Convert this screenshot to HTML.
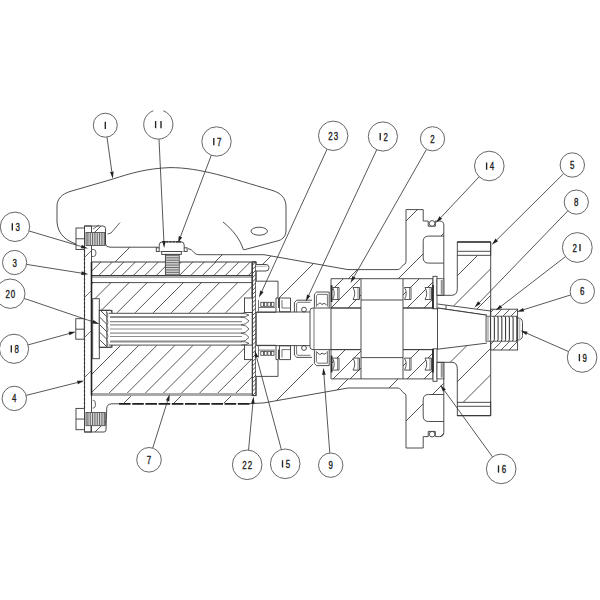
<!DOCTYPE html>
<html><head><meta charset="utf-8"><style>
html,body{margin:0;padding:0;background:#fff;width:600px;height:600px;overflow:hidden}
svg{display:block}

text{font-family:"Liberation Sans",sans-serif}
</style></head><body><div id="w">
<svg width="600" height="600" viewBox="0 0 600 600" stroke-linecap="butt">
<defs><clipPath id="h1"><path d="M91.5,247.2 L158,247.2 L188,248.7 L192,250 L197,254.7 L264,254.7 L348,269.6 L398,269.6 L402,268 L406,264 L406,209.6 L423.2,209.6 L423.2,221 L443.8,221 L443.8,278.7 L331,278.7 L331,291.7 L313,291.7 L313,298 L278,298 L278,281.7 L256,281.7 L256,262 L91.5,262Z"/></clipPath><clipPath id="h2"><path d="M264,402.9 L348,388 L398,388 L402,389.6 L406,393.6 L406,448 L423.2,448 L423.2,436.6 L443.8,436.6 L443.8,378.9 L331,378.9 L331,365.9 L313,365.9 L313,359.6 L278,359.6 L278,375.9 L256,375.9 L256,395.6Z"/></clipPath><clipPath id="h3"><path d="M92,395.6 L256,395.6 L256,402 L264,402.9 L92,404Z"/></clipPath><clipPath id="h4"><path d="M91,226 L103,226 L105.5,228.5 L105.5,247.2 L91,247.2Z"/></clipPath><clipPath id="h5"><path d="M91,404 L110,404 L106,409 L106,430.7 L104,432 L91,432Z"/></clipPath><clipPath id="h6"><path d="M92,262 L252,262 L252,275.6 L92,275.6Z"/></clipPath><clipPath id="h7"><path d="M92,282.6 L252,282.6 L252,312.7 L92,312.7Z"/></clipPath><clipPath id="h8"><path d="M92,345.5 L252,345.5 L252,393.6 L92,393.6Z"/></clipPath><clipPath id="h9"><path d="M84.5,250 L91.5,250 L91.5,408 L84.5,408Z"/></clipPath><clipPath id="h10"><path d="M99.8,310.8 L106.7,310.8 L106.7,346.8 L99.8,346.8Z"/></clipPath><clipPath id="h11"><path d="M252.3,262 L256,262 L256,395.6 L252.3,395.6Z"/></clipPath><clipPath id="h12"><path d="M331,278.7 L361,278.7 L361,308 L331,308Z"/></clipPath><clipPath id="h13"><path d="M403,278.7 L433,278.7 L433,308 L403,308Z"/></clipPath><clipPath id="h14"><path d="M331,378.9 L361,378.9 L361,349.6 L331,349.6Z"/></clipPath><clipPath id="h15"><path d="M403,378.9 L433,378.9 L433,349.6 L403,349.6Z"/></clipPath><clipPath id="h16"><path d="M457.3,255.3 L490.7,255.3 L490.7,311 L437.5,303.5 L437.5,295.3 L451.7,295.3 L457.3,288.7Z"/></clipPath><clipPath id="h17"><path d="M457.3,402.3 L490.7,402.3 L490.7,342.6 L487,343.1 L437.5,349.2 L437.5,362.3 L451.7,362.3 L457.3,368.9Z"/></clipPath><clipPath id="h18"><path d="M490.7,309.2 L517.6,309.2 L517.6,316.2 L490.7,316.2Z"/></clipPath><clipPath id="h19"><path d="M490.7,341.2 L517.6,341.2 L517.6,350 L490.7,350Z"/></clipPath></defs>
<rect width="600" height="600" fill="#fff"/>
<path d="M76,244 C68,241 58,236 57,222 L57,206 C57,199 62,194 70,191.5 L113,179 C130,173.5 146,168.5 170,167.6 C200,167.5 230,178 272,190.3 C281,193 286,198 286,207 L286,230 C286,236 283,239 279,240.5 L244,249.8" stroke="#3a3a3a" stroke-width="0.9" fill="none" />
<path d="M223,222 C233,230 240,239 243.5,250" stroke="#3a3a3a" stroke-width="0.9" fill="none" />
<ellipse cx="259.2" cy="231.2" rx="8.2" ry="4" stroke="#3a3a3a" stroke-width="0.9" fill="none"/>
<path clip-path="url(#h1)" d="M69.4,207.6L-23,300M119.4,207.6L27,300M169.4,207.6L77,300M219.4,207.6L127,300M269.4,207.6L177,300M319.4,207.6L227,300M369.4,207.6L277,300M419.4,207.6L327,300M469.4,207.6L377,300M519.4,207.6L427,300" stroke="#383838" stroke-width="0.85" fill="none"/>
<path clip-path="url(#h2)" d="M219.4,357.6L127,450M269.4,357.6L177,450M319.4,357.6L227,450M369.4,357.6L277,450M419.4,357.6L327,450M469.4,357.6L377,450M519.4,357.6L427,450" stroke="#383838" stroke-width="0.85" fill="none"/>
<path clip-path="url(#h3)" d="M83.4,393.6L71,406M133.4,393.6L121,406M183.4,393.6L171,406M233.4,393.6L221,406" stroke="#383838" stroke-width="0.85" fill="none"/>
<path clip-path="url(#h4)" d="M53,224L27.8,249.2M103,224L77.8,249.2" stroke="#383838" stroke-width="0.85" fill="none"/>
<path clip-path="url(#h5)" d="M75,402L43,434M125,402L93,434" stroke="#383838" stroke-width="0.85" fill="none"/>
<path d="M443.8,236.1 L428.5,236.1 Q423.2,236.1 423.2,241.5 L423.2,257.8 Q423.2,263.1 428.5,263.1 L443.8,263.1" stroke="#3a3a3a" stroke-width="0.9" fill="#fff" />
<path d="M264,254.7 L348,269.6 L397,269.6 C401.5,269.6 401.5,265.5 404,264.5 Q406,264 406,261.5 L406,209.6 L423.2,209.6 L423.2,221 L428.2,221 L428.2,226.2 L435.3,226.2 L435.3,221 L439.5,221 Q443.8,221 443.8,225 L443.8,295.3" stroke="#3a3a3a" stroke-width="0.9" fill="none" />
<circle cx="432.1" cy="223.4" r="2.8" stroke="#3a3a3a" stroke-width="0.9" fill="#fff"/>
<path d="M443.8,421.5 L428.5,421.5 Q423.2,421.5 423.2,416.1 L423.2,399.8 Q423.2,394.5 428.5,394.5 L443.8,394.5" stroke="#3a3a3a" stroke-width="0.9" fill="#fff" />
<path d="M264,402.9 L348,388 L397,388 C401.5,388 401.5,392.1 404,393.1 Q406,393.6 406,396.1 L406,448 L423.2,448 L423.2,436.6 L428.2,436.6 L428.2,431.4 L435.3,431.4 L435.3,436.6 L439.5,436.6 Q443.8,436.6 443.8,432.6 L443.8,362.3" stroke="#3a3a3a" stroke-width="0.9" fill="none" />
<circle cx="432.1" cy="434.2" r="2.8" stroke="#3a3a3a" stroke-width="0.9" fill="#fff"/>
<path d="M105.5,244 Q106,247.2 110,247.2 L158,247.2" stroke="#3a3a3a" stroke-width="0.9" fill="none" />
<path d="M188,248.7 C191,249 192,250.5 194,252.5 C195.5,254 196.5,254.7 200,254.7 L264,254.7" stroke="#3a3a3a" stroke-width="0.9" fill="none" />
<path d="M106.7,408.7 Q107,404 111,404" stroke="#3a3a3a" stroke-width="0.9" fill="none" />
<line x1="111" y1="403.8" x2="119" y2="403.8" stroke="#3a3a3a" stroke-width="0.9" />
<line x1="119" y1="403.8" x2="250" y2="403.8" stroke="#1e1e1e" stroke-width="1.7" stroke-dasharray="11.6,1.6"/>
<path d="M247,403.8 L264,402.9" stroke="#3a3a3a" stroke-width="0.9" fill="none" />
<path clip-path="url(#h6)" d="M79.8,260L62.2,277.6M91.3,260L73.7,277.6M102.8,260L85.2,277.6M114.3,260L96.7,277.6M125.8,260L108.2,277.6M137.3,260L119.7,277.6M148.8,260L131.2,277.6M160.3,260L142.7,277.6M171.8,260L154.2,277.6M183.3,260L165.7,277.6M194.8,260L177.2,277.6M206.3,260L188.7,277.6M217.8,260L200.2,277.6M229.3,260L211.7,277.6M240.8,260L223.2,277.6M252.3,260L234.7,277.6M263.8,260L246.2,277.6" stroke="#383838" stroke-width="0.85" fill="none"/>
<line x1="91.5" y1="262" x2="256" y2="262" stroke="#3a3a3a" stroke-width="1.2" />
<line x1="92" y1="275.6" x2="252" y2="275.6" stroke="#3a3a3a" stroke-width="1.4" />
<line x1="92" y1="277.2" x2="252" y2="277.2" stroke="#666" stroke-width="0.8" />
<line x1="92" y1="282.6" x2="252" y2="282.6" stroke="#3a3a3a" stroke-width="0.9" />
<path clip-path="url(#h7)" d="M76.8,280.6L42.7,314.7M94.9,280.6L60.8,314.7M113,280.6L78.9,314.7M131.1,280.6L97,314.7M149.2,280.6L115.1,314.7M167.3,280.6L133.2,314.7M185.4,280.6L151.3,314.7M203.5,280.6L169.4,314.7M221.6,280.6L187.5,314.7M239.7,280.6L205.6,314.7M257.8,280.6L223.7,314.7M275.9,280.6L241.8,314.7" stroke="#383838" stroke-width="0.85" fill="none"/>
<path clip-path="url(#h8)" d="M86.3,343.5L34.2,395.6M104.4,343.5L52.3,395.6M122.5,343.5L70.4,395.6M140.6,343.5L88.5,395.6M158.7,343.5L106.6,395.6M176.8,343.5L124.7,395.6M194.9,343.5L142.8,395.6M213,343.5L160.9,395.6M231.1,343.5L179,395.6M249.2,343.5L197.1,395.6M267.3,343.5L215.2,395.6M285.4,343.5L233.3,395.6M303.5,343.5L251.4,395.6" stroke="#383838" stroke-width="0.85" fill="none"/>
<rect x="92" y="393" width="160" height="3" fill="#a8a8a8"/>
<rect x="84.5" y="226" width="7" height="206" stroke="#3a3a3a" stroke-width="0.9" fill="#fff" />
<path clip-path="url(#h9)" d="M54,248L-108,410M94,248L-68,410M134,248L-28,410M174,248L12,410M214,248L52,410M254,248L92,410" stroke="#383838" stroke-width="0.7" fill="none"/>
<line x1="84.5" y1="250" x2="84.5" y2="408" stroke="#333" stroke-width="1.2" stroke-dasharray="2.5,1.5"/>
<line x1="91.5" y1="262" x2="91.5" y2="395.6" stroke="#222" stroke-width="1.6" />
<rect x="92.7" y="298.7" width="6.6" height="60" stroke="#3a3a3a" stroke-width="0.9" fill="#fff" />
<rect x="99.3" y="310.3" width="12.7" height="37" stroke="#3a3a3a" stroke-width="0.9" fill="#fff" />
<path clip-path="url(#h10)" d="M53.8,308.8L93.8,348.8M61.3,308.8L101.3,348.8M68.8,308.8L108.8,348.8M76.3,308.8L116.3,348.8M83.8,308.8L123.8,348.8M91.3,308.8L131.3,348.8M98.8,308.8L138.8,348.8M106.3,308.8L146.3,348.8" stroke="#333" stroke-width="0.85" fill="none"/>
<path d="M106.7,310.8 L106.7,346.8" stroke="#3a3a3a" stroke-width="0.7" fill="none" />
<path d="M106.7,312 Q109.3,315.4 106.9,318.9 Q109.3,322.3 106.9,325.8 Q109.3,329.2 106.9,332.7 Q109.3,336.1 106.9,339.6 Q109.3,343 106.9,346.5" stroke="#444" stroke-width="0.8" fill="none" />
<path d="M99.4,310.3 L110,310.3 Q111.8,310.6 111.8,312.5" stroke="#3a3a3a" stroke-width="0.9" fill="none" />
<path d="M99.4,347.3 L110,347.3 Q111.8,347 111.8,345.2" stroke="#3a3a3a" stroke-width="0.9" fill="none" />
<rect x="108.7" y="313.3" width="140.3" height="31.8" stroke="none" stroke-width="0" fill="#fff" />
<line x1="108.7" y1="313.3" x2="244" y2="313.3" stroke="#3a3a3a" stroke-width="0.9" />
<line x1="108.7" y1="345.1" x2="244" y2="345.1" stroke="#3a3a3a" stroke-width="0.9" />
<line x1="110" y1="317" x2="242" y2="317" stroke="#8c8c8c" stroke-width="1.8" />
<line x1="110" y1="321.7" x2="242" y2="321.7" stroke="#8c8c8c" stroke-width="1.2" />
<line x1="110" y1="324.8" x2="242" y2="324.8" stroke="#8c8c8c" stroke-width="1.2" />
<line x1="110" y1="329" x2="242" y2="329" stroke="#8c8c8c" stroke-width="1.2" />
<line x1="110" y1="333.2" x2="242" y2="333.2" stroke="#8c8c8c" stroke-width="1.2" />
<line x1="110" y1="336.5" x2="242" y2="336.5" stroke="#8c8c8c" stroke-width="1.2" />
<line x1="110" y1="341.5" x2="242" y2="341.5" stroke="#8c8c8c" stroke-width="1.8" />
<path d="M241,313.3 Q246,313.3 249,315.15 Q246,317 241,317 M241,317 Q246,317 249,320.9 Q246,324.8 241,324.8 M241,324.8 Q246,324.8 249,329 Q246,333.2 241,333.2 M241,333.2 Q246,333.2 249,337.35 Q246,341.5 241,341.5 M241,341.5 Q246,341.5 249,343.3 Q246,345.1 241,345.1 " stroke="#555" stroke-width="0.9" fill="none" />
<rect x="75.8" y="318.7" width="8.4" height="20.5" stroke="#3a3a3a" stroke-width="0.9" fill="#fff" />
<line x1="75.8" y1="329.2" x2="84.2" y2="329.2" stroke="#3a3a3a" stroke-width="0.9" />
<rect x="76" y="228" width="8.5" height="21.5" stroke="#3a3a3a" stroke-width="0.9" fill="#fff" />
<line x1="76" y1="238.75" x2="84.5" y2="238.75" stroke="#3a3a3a" stroke-width="0.9" />
<rect x="86" y="232.5" width="19.2" height="13" stroke="#3a3a3a" stroke-width="0.8" fill="#fff" />
<path d="M87.2,233V245M88.95,233V245M90.7,233V245M92.45,233V245M94.2,233V245M95.95,233V245M97.7,233V245M99.45,233V245M101.2,233V245M102.95,233V245M104.7,233V245" stroke="#3a3a3a" stroke-width="0.8" fill="none" />
<rect x="76" y="408.4" width="8.5" height="21.3" stroke="#3a3a3a" stroke-width="0.9" fill="#fff" />
<line x1="76" y1="419.05" x2="84.5" y2="419.05" stroke="#3a3a3a" stroke-width="0.9" />
<rect x="86" y="412.4" width="19.2" height="13.3" stroke="#3a3a3a" stroke-width="0.8" fill="#fff" />
<path d="M87.2,412.9V425.2M88.95,412.9V425.2M90.7,412.9V425.2M92.45,412.9V425.2M94.2,412.9V425.2M95.95,412.9V425.2M97.7,412.9V425.2M99.45,412.9V425.2M101.2,412.9V425.2M102.95,412.9V425.2M104.7,412.9V425.2" stroke="#3a3a3a" stroke-width="0.8" fill="none" />
<path d="M84.5,226 L103,226 Q105.5,226 105.5,228.5 L105.5,244" stroke="#3a3a3a" stroke-width="0.9" fill="none" />
<path d="M106.7,408.7 L106,430 Q106,432 104,432 L84.5,432" stroke="#3a3a3a" stroke-width="0.9" fill="none" />
<line x1="91" y1="425.7" x2="91" y2="432" stroke="#3a3a3a" stroke-width="0.9" />
<path d="M92,249.5 L93.5,249.5 Q96,249.5 96,253 Q96,256.5 93.5,256.5 L92,256.5" stroke="#3a3a3a" stroke-width="0.8" fill="none" />
<path d="M92.7,400.4 L93.5,400.4 Q95.5,400.4 95.5,404.2 Q95.5,408 93.5,408 L92.7,408" stroke="#3a3a3a" stroke-width="0.8" fill="none" />
<path d="M120,222.5 L111,233 L107.5,234" stroke="#3a3a3a" stroke-width="0.8" fill="none" />
<line x1="93" y1="229" x2="99" y2="225" stroke="#3a3a3a" stroke-width="0.7" />
<rect x="156.3" y="247.8" width="30.8" height="3.7" stroke="#3a3a3a" stroke-width="0.9" fill="#fff" />
<path d="M159.2,251.5 L159.2,245 Q159.2,241.9 162.5,241.8 L181,241.8 Q184.2,241.9 184.2,245 L184.2,251.5" stroke="#3a3a3a" stroke-width="0.9" fill="#fff" />
<line x1="163" y1="241.8" x2="181" y2="241.8" stroke="#222" stroke-width="1.2" stroke-dasharray="2.2,1"/>
<rect x="161.7" y="251.5" width="19.6" height="2.9" stroke="#3a3a3a" stroke-width="0.9" fill="#fff" />
<rect x="165.4" y="254.4" width="13.8" height="20.9" stroke="#3a3a3a" stroke-width="0.9" fill="#fff" />
<path d="M165.8,255.6H178.8M165.8,257.3H178.8M165.8,259H178.8M165.8,260.7H178.8M165.8,262.4H178.8M165.8,264.1H178.8M165.8,265.8H178.8M165.8,267.5H178.8M165.8,269.2H178.8M165.8,270.9H178.8M165.8,272.6H178.8M165.8,274.3H178.8" stroke="#444" stroke-width="0.8" fill="none" />
<rect x="252.3" y="262" width="3.7" height="133.6" stroke="#3a3a3a" stroke-width="0.9" fill="#fff" />
<path clip-path="url(#h11)" d="M249.2,260L111.6,397.6M253.4,260L115.8,397.6M257.6,260L120,397.6M261.8,260L124.2,397.6M266,260L128.4,397.6M270.2,260L132.6,397.6M274.4,260L136.8,397.6M278.6,260L141,397.6M282.8,260L145.2,397.6M287,260L149.4,397.6M291.2,260L153.6,397.6M295.4,260L157.8,397.6M299.6,260L162,397.6M303.8,260L166.2,397.6M308,260L170.4,397.6M312.2,260L174.6,397.6M316.4,260L178.8,397.6M320.6,260L183,397.6M324.8,260L187.2,397.6M329,260L191.4,397.6M333.2,260L195.6,397.6M337.4,260L199.8,397.6M341.6,260L204,397.6M345.8,260L208.2,397.6M350,260L212.4,397.6M354.2,260L216.6,397.6M358.4,260L220.8,397.6M362.6,260L225,397.6M366.8,260L229.2,397.6M371,260L233.4,397.6M375.2,260L237.6,397.6M379.4,260L241.8,397.6M383.6,260L246,397.6M387.8,260L250.2,397.6M392,260L254.4,397.6" stroke="#444" stroke-width="0.9" fill="none"/>
<rect x="252.3" y="262" width="3.7" height="133.6" stroke="#3a3a3a" stroke-width="0.9" fill="none" />
<line x1="252" y1="262" x2="252" y2="312.7" stroke="#3a3a3a" stroke-width="0.9" />
<path d="M256,264.5 L266,264.5 Q269,264.5 269,267.7 Q269,271 266,271 L256,271" stroke="#3a3a3a" stroke-width="0.9" fill="#fff" />
<line x1="256" y1="266.3" x2="266.5" y2="266.3" stroke="#777" stroke-width="0.6" />
<rect x="244.5" y="298" width="7.8" height="14.5" stroke="#3a3a3a" stroke-width="0.9" fill="#fff" />
<path d="M256,281.2 L278,281.2 L278,298 L276,298 L276,312.3 L256,312.3" stroke="#3a3a3a" stroke-width="0.9" fill="#fff" />
<line x1="278.8" y1="298" x2="278.8" y2="308" stroke="#444" stroke-width="1.6" />
<rect x="260.8" y="302.3" width="2.7" height="4" stroke="#3a3a3a" stroke-width="0.8" fill="#fff" />
<rect x="264.3" y="302.3" width="2.7" height="4" stroke="#3a3a3a" stroke-width="0.8" fill="#fff" />
<rect x="267.8" y="302.3" width="2.7" height="4" stroke="#3a3a3a" stroke-width="0.8" fill="#fff" />
<rect x="271.3" y="302.3" width="2.7" height="4" stroke="#3a3a3a" stroke-width="0.8" fill="#fff" />
<line x1="259" y1="307.5" x2="275" y2="307.5" stroke="#3a3a3a" stroke-width="0.7" />
<line x1="258.5" y1="300" x2="258.5" y2="311.5" stroke="#3a3a3a" stroke-width="0.7" />
<path d="M279.5,298 L290.5,298 L290.5,311.8 L279.5,311.8 L279.5,298" stroke="#3a3a3a" stroke-width="0.9" fill="#fff" />
<path d="M282,300 L282,308 L290.5,308" stroke="#3a3a3a" stroke-width="0.7" fill="none" />
<path d="M294.4,312.2 L294.4,302.5 L296.8,300.2 L312,300.2" stroke="#3a3a3a" stroke-width="0.9" fill="none" />
<path d="M296.6,312.2 L296.6,303.5 L298,302.3 L310.5,302.3" stroke="#3a3a3a" stroke-width="0.7" fill="none" />
<circle cx="304" cy="309.6" r="2.4" stroke="#3a3a3a" stroke-width="0.9" fill="#fff"/>
<path d="M314.4,307.5 L314.4,294.2 L316.6,292 L329.2,292 L329.2,307.8" stroke="#3a3a3a" stroke-width="0.9" fill="#fff" />
<path d="M316.4,306.5 L316.4,296 L317.6,294.4 L327.4,294.4 L327.4,306.5" stroke="#3a3a3a" stroke-width="0.7" fill="none" />
<path d="M317,305.5 Q319.5,301.5 322,304.5 Q324,302 326.5,304.8" stroke="#3a3a3a" stroke-width="0.9" fill="none" />
<line x1="331.6" y1="285.2" x2="331.6" y2="302" stroke="#222" stroke-width="1.7" />
<rect x="244.5" y="345.1" width="7.8" height="14.5" stroke="#3a3a3a" stroke-width="0.9" fill="#fff" />
<path d="M256,376.4 L278,376.4 L278,359.6 L276,359.6 L276,345.3 L256,345.3" stroke="#3a3a3a" stroke-width="0.9" fill="#fff" />
<line x1="278.8" y1="359.6" x2="278.8" y2="349.6" stroke="#444" stroke-width="1.6" />
<rect x="260.8" y="351.3" width="2.7" height="4" stroke="#3a3a3a" stroke-width="0.8" fill="#fff" />
<rect x="264.3" y="351.3" width="2.7" height="4" stroke="#3a3a3a" stroke-width="0.8" fill="#fff" />
<rect x="267.8" y="351.3" width="2.7" height="4" stroke="#3a3a3a" stroke-width="0.8" fill="#fff" />
<rect x="271.3" y="351.3" width="2.7" height="4" stroke="#3a3a3a" stroke-width="0.8" fill="#fff" />
<line x1="259" y1="350.1" x2="275" y2="350.1" stroke="#3a3a3a" stroke-width="0.7" />
<line x1="258.5" y1="357.6" x2="258.5" y2="346.1" stroke="#3a3a3a" stroke-width="0.7" />
<path d="M279.5,359.6 L290.5,359.6 L290.5,345.8 L279.5,345.8 L279.5,359.6" stroke="#3a3a3a" stroke-width="0.9" fill="#fff" />
<path d="M282,357.6 L282,349.6 L290.5,349.6" stroke="#3a3a3a" stroke-width="0.7" fill="none" />
<path d="M294.4,345.4 L294.4,355.1 L296.8,357.4 L312,357.4" stroke="#3a3a3a" stroke-width="0.9" fill="none" />
<path d="M296.6,345.4 L296.6,354.1 L298,355.3 L310.5,355.3" stroke="#3a3a3a" stroke-width="0.7" fill="none" />
<circle cx="304" cy="348" r="2.4" stroke="#3a3a3a" stroke-width="0.9" fill="#fff"/>
<path d="M314.4,350.1 L314.4,363.4 L316.6,365.6 L329.2,365.6 L329.2,349.8" stroke="#3a3a3a" stroke-width="0.9" fill="#fff" />
<path d="M316.4,351.1 L316.4,361.6 L317.6,363.2 L327.4,363.2 L327.4,351.1" stroke="#3a3a3a" stroke-width="0.7" fill="none" />
<path d="M317,352.1 Q319.5,356.1 322,353.1 Q324,355.6 326.5,352.8" stroke="#3a3a3a" stroke-width="0.9" fill="none" />
<line x1="331.6" y1="372.4" x2="331.6" y2="355.6" stroke="#222" stroke-width="1.7" />
<path d="M256.7,312 L310,312 M310,345.6 L256.7,345.6" stroke="#3a3a3a" stroke-width="0.9" fill="none" />
<path d="M310,312 L310,310.5 Q310,308 313,308 L361,308 M403,308 L437,308" stroke="#3a3a3a" stroke-width="0.9" fill="none" />
<path d="M310,345.6 L310,347.1 Q310,349.6 313,349.6 L361,349.6 M403,349.6 L437,349.6" stroke="#3a3a3a" stroke-width="0.9" fill="none" />
<line x1="310" y1="312" x2="310" y2="345.6" stroke="#3a3a3a" stroke-width="0.9" />
<line x1="314" y1="308" x2="314" y2="349.6" stroke="#3a3a3a" stroke-width="0.7" />
<line x1="331" y1="308" x2="331" y2="349.6" stroke="#3a3a3a" stroke-width="0.9" />
<line x1="361" y1="308" x2="361" y2="349.6" stroke="#3a3a3a" stroke-width="0.9" />
<line x1="403" y1="308" x2="403" y2="349.6" stroke="#3a3a3a" stroke-width="0.9" />
<path clip-path="url(#h12)" d="M328.3,276.7L295,310M345.3,276.7L312,310M362.3,276.7L329,310M379.3,276.7L346,310M396.3,276.7L363,310" stroke="#383838" stroke-width="0.85" fill="none"/>
<path d="M331,278.7 L361,278.7 L361,308 L331,308Z" stroke="#3a3a3a" stroke-width="0.9" fill="none" />
<path d="M332.5,287.5 L339,287.5 L339,299.5 L332.5,299.5 Q336,293.5 332.5,287.5Z" stroke="#3a3a3a" stroke-width="0.85" fill="#fff" />
<line x1="337.5" y1="287.5" x2="337.5" y2="299.5" stroke="#3a3a3a" stroke-width="0.6" />
<path d="M353,287.5 L359.5,287.5 L359.5,299.5 L353,299.5 Q356.5,293.5 353,287.5Z" stroke="#3a3a3a" stroke-width="0.85" fill="#fff" />
<line x1="358" y1="287.5" x2="358" y2="299.5" stroke="#3a3a3a" stroke-width="0.6" />
<path clip-path="url(#h13)" d="M387.3,276.7L354,310M404.3,276.7L371,310M421.3,276.7L388,310M438.3,276.7L405,310M455.3,276.7L422,310" stroke="#383838" stroke-width="0.85" fill="none"/>
<path d="M403,278.7 L433,278.7 L433,308 L403,308Z" stroke="#3a3a3a" stroke-width="0.9" fill="none" />
<path d="M404.5,287.5 L411,287.5 L411,299.5 L404.5,299.5 Q408,293.5 404.5,287.5Z" stroke="#3a3a3a" stroke-width="0.85" fill="#fff" />
<line x1="409.5" y1="287.5" x2="409.5" y2="299.5" stroke="#3a3a3a" stroke-width="0.6" />
<path d="M425,287.5 L431.5,287.5 L431.5,299.5 L425,299.5 Q428.5,293.5 425,287.5Z" stroke="#3a3a3a" stroke-width="0.85" fill="#fff" />
<line x1="430" y1="287.5" x2="430" y2="299.5" stroke="#3a3a3a" stroke-width="0.6" />
<line x1="361" y1="278.7" x2="403" y2="278.7" stroke="#3a3a3a" stroke-width="0.9" />
<line x1="361" y1="300" x2="403" y2="300" stroke="#3a3a3a" stroke-width="0.9" />
<rect x="433" y="276.3" width="4" height="32.5" stroke="#3a3a3a" stroke-width="0.9" fill="#fff" />
<line x1="433" y1="285" x2="433" y2="308.5" stroke="#222" stroke-width="1.6" />
<rect x="437" y="278.7" width="6.8" height="16.6" stroke="#3a3a3a" stroke-width="0.8" fill="#fff" />
<line x1="441.3" y1="280" x2="441.3" y2="294.5" stroke="#3a3a3a" stroke-width="0.7" />
<line x1="442.5" y1="280" x2="442.5" y2="294.5" stroke="#888" stroke-width="0.7" />
<path clip-path="url(#h14)" d="M313.4,347.6L280.1,380.9M330.4,347.6L297.1,380.9M347.4,347.6L314.1,380.9M364.4,347.6L331.1,380.9M381.4,347.6L348.1,380.9" stroke="#383838" stroke-width="0.85" fill="none"/>
<path d="M331,378.9 L361,378.9 L361,349.6 L331,349.6Z" stroke="#3a3a3a" stroke-width="0.9" fill="none" />
<path d="M332.5,370.1 L339,370.1 L339,358.1 L332.5,358.1 Q336,364.1 332.5,370.1Z" stroke="#3a3a3a" stroke-width="0.85" fill="#fff" />
<line x1="337.5" y1="370.1" x2="337.5" y2="358.1" stroke="#3a3a3a" stroke-width="0.6" />
<path d="M353,370.1 L359.5,370.1 L359.5,358.1 L353,358.1 Q356.5,364.1 353,370.1Z" stroke="#3a3a3a" stroke-width="0.85" fill="#fff" />
<line x1="358" y1="370.1" x2="358" y2="358.1" stroke="#3a3a3a" stroke-width="0.6" />
<path clip-path="url(#h15)" d="M387.4,347.6L354.1,380.9M404.4,347.6L371.1,380.9M421.4,347.6L388.1,380.9M438.4,347.6L405.1,380.9M455.4,347.6L422.1,380.9" stroke="#383838" stroke-width="0.85" fill="none"/>
<path d="M403,378.9 L433,378.9 L433,349.6 L403,349.6Z" stroke="#3a3a3a" stroke-width="0.9" fill="none" />
<path d="M404.5,370.1 L411,370.1 L411,358.1 L404.5,358.1 Q408,364.1 404.5,370.1Z" stroke="#3a3a3a" stroke-width="0.85" fill="#fff" />
<line x1="409.5" y1="370.1" x2="409.5" y2="358.1" stroke="#3a3a3a" stroke-width="0.6" />
<path d="M425,370.1 L431.5,370.1 L431.5,358.1 L425,358.1 Q428.5,364.1 425,370.1Z" stroke="#3a3a3a" stroke-width="0.85" fill="#fff" />
<line x1="430" y1="370.1" x2="430" y2="358.1" stroke="#3a3a3a" stroke-width="0.6" />
<line x1="361" y1="378.9" x2="403" y2="378.9" stroke="#3a3a3a" stroke-width="0.9" />
<line x1="361" y1="357.6" x2="403" y2="357.6" stroke="#3a3a3a" stroke-width="0.9" />
<rect x="433" y="348.8" width="4" height="32.5" stroke="#3a3a3a" stroke-width="0.9" fill="#fff" />
<line x1="433" y1="372.6" x2="433" y2="349.1" stroke="#222" stroke-width="1.6" />
<rect x="437" y="362.3" width="6.8" height="16.6" stroke="#3a3a3a" stroke-width="0.8" fill="#fff" />
<line x1="441.3" y1="377.6" x2="441.3" y2="363.1" stroke="#3a3a3a" stroke-width="0.7" />
<line x1="442.5" y1="377.6" x2="442.5" y2="363.1" stroke="#888" stroke-width="0.7" />
<path d="M457.3,255.3 L457.3,288.7 Q457.3,295.3 451.7,295.3 L437,295.3" stroke="#3a3a3a" stroke-width="0.9" fill="none" />
<path d="M457.3,402.3 L457.3,368.9 Q457.3,362.3 451.7,362.3 L437,362.3" stroke="#3a3a3a" stroke-width="0.9" fill="none" />
<path clip-path="url(#h16)" d="M426.7,253.3L367,313M453.2,253.3L393.5,313M479.7,253.3L420,313M506.2,253.3L446.5,313M532.7,253.3L473,313" stroke="#383838" stroke-width="0.85" fill="none"/>
<path clip-path="url(#h17)" d="M418.9,340.6L355.2,404.3M445.4,340.6L381.7,404.3M471.9,340.6L408.2,404.3M498.4,340.6L434.7,404.3M524.9,340.6L461.2,404.3M551.4,340.6L487.7,404.3" stroke="#383838" stroke-width="0.85" fill="none"/>
<rect x="457.3" y="242" width="33.4" height="13.3" stroke="#3a3a3a" stroke-width="0.9" fill="#fff" />
<line x1="457.3" y1="251.3" x2="490.7" y2="251.3" stroke="#3a3a3a" stroke-width="0.9" />
<line x1="457.3" y1="242" x2="490.7" y2="242" stroke="#3a3a3a" stroke-width="1.3" />
<rect x="457.3" y="402.3" width="33.4" height="13.3" stroke="#3a3a3a" stroke-width="0.9" fill="#fff" />
<line x1="457.3" y1="406.3" x2="490.7" y2="406.3" stroke="#3a3a3a" stroke-width="0.9" />
<line x1="457.3" y1="415.6" x2="490.7" y2="415.6" stroke="#3a3a3a" stroke-width="1.1" />
<line x1="490.7" y1="242" x2="490.7" y2="415.6" stroke="#3a3a3a" stroke-width="0.9" />
<path d="M437.5,304 L490.7,311 M437.5,308 L487,315.2 M446,305.2 L446,309.2" stroke="#3a3a3a" stroke-width="0.9" fill="none" />
<path d="M437.5,308.3 L487,315.5 L487,343.1 L437.5,349.2Z" stroke="none" stroke-width="0" fill="#fff" />
<path d="M437.5,308 L487,315.2 M437.5,349.2 L487,343.1" stroke="#3a3a3a" stroke-width="0.9" fill="none" />
<line x1="437.5" y1="308" x2="437.5" y2="349.6" stroke="#3a3a3a" stroke-width="0.9" />
<path clip-path="url(#h18)" d="M487.8,307.2L476.8,318.2M495.8,307.2L484.8,318.2M503.8,307.2L492.8,318.2M511.8,307.2L500.8,318.2M519.8,307.2L508.8,318.2M527.8,307.2L516.8,318.2" stroke="#383838" stroke-width="0.8" fill="none"/>
<path clip-path="url(#h19)" d="M487.8,339.2L475,352M495.8,339.2L483,352M503.8,339.2L491,352M511.8,339.2L499,352M519.8,339.2L507,352M527.8,339.2L515,352" stroke="#383838" stroke-width="0.8" fill="none"/>
<rect x="490.7" y="309.2" width="26.9" height="40.8" stroke="#3a3a3a" stroke-width="0.9" fill="none" />
<rect x="486" y="316.2" width="31.6" height="25" stroke="#3a3a3a" stroke-width="0.8" fill="#fff" />
<path d="M517.6,318 Q522.5,318 522.5,322.5 L522.5,335.5 Q522.5,340 517.6,340" stroke="#3a3a3a" stroke-width="0.9" fill="none" />
<line x1="519.5" y1="318.5" x2="519.5" y2="339.5" stroke="#bbb" stroke-width="1.6" />
<path d="M490.1,316.4L490.6,318L490.6,339.5L490.1,341M493.85,316.4L494.35,318L494.35,339.5L493.85,341M497.6,316.4L498.1,318L498.1,339.5L497.6,341M501.35,316.4L501.85,318L501.85,339.5L501.35,341M505.1,316.4L505.6,318L505.6,339.5L505.1,341M508.85,316.4L509.35,318L509.35,339.5L508.85,341M512.6,316.4L513.1,318L513.1,339.5L512.6,341M516.35,316.4L516.85,318L516.85,339.5L516.35,341" stroke="#2a2a2a" stroke-width="1.0" fill="none" />
<line x1="487" y1="317" x2="487" y2="340.5" stroke="#888" stroke-width="1.0" />
<line x1="488.6" y1="317" x2="488.6" y2="340.5" stroke="#aaa" stroke-width="0.8" />
<line x1="106.97" y1="137.08" x2="111.83" y2="171.77" stroke="#3a3a3a" stroke-width="0.85" />
<path d="M112.8,178.7L110.05,172.02L113.61,171.52Z" fill="#222"/>
<line x1="159" y1="139.08" x2="163.87" y2="241.01" stroke="#3a3a3a" stroke-width="0.85" />
<path d="M164.2,248L162.07,241.09L165.66,240.92Z" fill="#222"/>
<line x1="211.3" y1="155.25" x2="180.48" y2="236.65" stroke="#3a3a3a" stroke-width="0.85" />
<path d="M178,243.2L178.79,236.02L182.16,237.29Z" fill="#222"/>
<line x1="327.07" y1="149.16" x2="261.92" y2="291.14" stroke="#3a3a3a" stroke-width="0.85" />
<path d="M259,297.5L260.28,290.39L263.56,291.89Z" fill="#222"/>
<line x1="376.72" y1="149.73" x2="308.76" y2="295.16" stroke="#3a3a3a" stroke-width="0.85" />
<path d="M305.8,301.5L307.13,294.4L310.39,295.92Z" fill="#222"/>
<line x1="426.52" y1="149.32" x2="353.96" y2="276.92" stroke="#3a3a3a" stroke-width="0.85" />
<path d="M350.5,283L352.4,276.03L355.52,277.8Z" fill="#222"/>
<line x1="479.16" y1="176.78" x2="440.79" y2="217.6" stroke="#3a3a3a" stroke-width="0.85" />
<path d="M436,222.7L439.48,216.37L442.11,218.83Z" fill="#222"/>
<line x1="563.64" y1="173.59" x2="496.77" y2="239.87" stroke="#3a3a3a" stroke-width="0.85" />
<path d="M491.8,244.8L495.5,238.59L498.04,241.15Z" fill="#222"/>
<line x1="567.9" y1="210.81" x2="479.36" y2="302.56" stroke="#3a3a3a" stroke-width="0.85" />
<path d="M474.5,307.6L478.07,301.31L480.66,303.81Z" fill="#222"/>
<line x1="565.5" y1="256.6" x2="501.04" y2="306.32" stroke="#3a3a3a" stroke-width="0.85" />
<path d="M495.5,310.6L499.94,304.9L502.14,307.75Z" fill="#222"/>
<line x1="570.66" y1="294.95" x2="523.68" y2="309.7" stroke="#3a3a3a" stroke-width="0.85" />
<path d="M517,311.8L523.14,307.99L524.22,311.42Z" fill="#222"/>
<line x1="568.54" y1="351.56" x2="526.91" y2="333.31" stroke="#3a3a3a" stroke-width="0.85" />
<path d="M520.5,330.5L527.63,331.66L526.19,334.96Z" fill="#222"/>
<line x1="492.51" y1="456.92" x2="444.41" y2="390.57" stroke="#3a3a3a" stroke-width="0.85" />
<path d="M440.3,384.9L445.87,389.51L442.95,391.62Z" fill="#222"/>
<line x1="329.79" y1="453.03" x2="323.92" y2="374.78" stroke="#3a3a3a" stroke-width="0.85" />
<path d="M323.4,367.8L325.72,374.65L322.13,374.91Z" fill="#222"/>
<line x1="281.36" y1="449.51" x2="256.61" y2="357.26" stroke="#3a3a3a" stroke-width="0.85" />
<path d="M254.8,350.5L258.35,356.79L254.88,357.73Z" fill="#222"/>
<line x1="248.56" y1="450.06" x2="252.86" y2="403.57" stroke="#3a3a3a" stroke-width="0.85" />
<path d="M253.5,396.6L254.65,403.74L251.06,403.4Z" fill="#222"/>
<line x1="152.7" y1="448.07" x2="167.59" y2="400.88" stroke="#3a3a3a" stroke-width="0.85" />
<path d="M169.7,394.2L169.31,401.42L165.88,400.33Z" fill="#222"/>
<line x1="26.13" y1="395.42" x2="77.41" y2="382.51" stroke="#3a3a3a" stroke-width="0.85" />
<path d="M84.2,380.8L77.85,384.25L76.97,380.76Z" fill="#222"/>
<line x1="28.07" y1="344.91" x2="69.05" y2="333.57" stroke="#3a3a3a" stroke-width="0.85" />
<path d="M75.8,331.7L69.53,335.3L68.57,331.83Z" fill="#222"/>
<line x1="24.22" y1="298.43" x2="92.77" y2="321.75" stroke="#3a3a3a" stroke-width="0.85" />
<path d="M99.4,324L92.19,323.45L93.35,320.04Z" fill="#222"/>
<line x1="26.55" y1="264.4" x2="81.39" y2="273.1" stroke="#3a3a3a" stroke-width="0.85" />
<path d="M88.3,274.2L81.1,274.88L81.67,271.32Z" fill="#222"/>
<line x1="29.09" y1="230.99" x2="81.29" y2="246.51" stroke="#3a3a3a" stroke-width="0.85" />
<path d="M88,248.5L80.78,248.23L81.8,244.78Z" fill="#222"/>
<circle cx="105.3" cy="125.2" r="12" stroke="#666" stroke-width="1" fill="none"/>
<line x1="105.3" y1="121.7" x2="105.3" y2="128.9" stroke="#222" stroke-width="1.35" />
<path d="M163.29,110.78 A14.6,14.6 0 1 1 153.31,110.78" stroke="#666" stroke-width="1" fill="none"/>
<line x1="155.6" y1="121" x2="155.6" y2="128.2" stroke="#222" stroke-width="1.35" />
<line x1="161" y1="121" x2="161" y2="128.2" stroke="#222" stroke-width="1.35" />
<circle cx="216.5" cy="141.5" r="14.7" stroke="#666" stroke-width="1" fill="none"/>
<line x1="213.8" y1="138" x2="213.8" y2="145.2" stroke="#222" stroke-width="1.35" />
<text x="219.2" y="145.6" font-size="10.4" text-anchor="middle" transform="translate(219.2,0) scale(0.76,1) translate(-219.2,0)" fill="#222" stroke="#222" stroke-width="0.35">7</text>
<circle cx="333.2" cy="135.8" r="14.7" stroke="#666" stroke-width="1" fill="none"/>
<text x="330.5" y="139.9" font-size="10.4" text-anchor="middle" transform="translate(330.5,0) scale(0.76,1) translate(-330.5,0)" fill="#222" stroke="#222" stroke-width="0.35">2</text>
<text x="335.9" y="139.9" font-size="10.4" text-anchor="middle" transform="translate(335.9,0) scale(0.76,1) translate(-335.9,0)" fill="#222" stroke="#222" stroke-width="0.35">3</text>
<circle cx="382.9" cy="136.5" r="14.6" stroke="#666" stroke-width="1" fill="none"/>
<line x1="380.2" y1="133" x2="380.2" y2="140.2" stroke="#222" stroke-width="1.35" />
<text x="385.6" y="140.6" font-size="10.4" text-anchor="middle" transform="translate(385.6,0) scale(0.76,1) translate(-385.6,0)" fill="#222" stroke="#222" stroke-width="0.35">2</text>
<circle cx="432.5" cy="138.8" r="12.1" stroke="#666" stroke-width="1" fill="none"/>
<text x="432.5" y="142.9" font-size="10.4" text-anchor="middle" transform="translate(432.5,0) scale(0.76,1) translate(-432.5,0)" fill="#222" stroke="#222" stroke-width="0.35">2</text>
<circle cx="489.3" cy="166" r="14.8" stroke="#666" stroke-width="1" fill="none"/>
<line x1="486.6" y1="162.5" x2="486.6" y2="169.7" stroke="#222" stroke-width="1.35" />
<text x="492" y="170.1" font-size="10.4" text-anchor="middle" transform="translate(492,0) scale(0.76,1) translate(-492,0)" fill="#222" stroke="#222" stroke-width="0.35">4</text>
<circle cx="572.3" cy="165" r="12.2" stroke="#666" stroke-width="1" fill="none"/>
<text x="572.3" y="169.1" font-size="10.4" text-anchor="middle" transform="translate(572.3,0) scale(0.76,1) translate(-572.3,0)" fill="#222" stroke="#222" stroke-width="0.35">5</text>
<circle cx="576.3" cy="202.1" r="12.1" stroke="#666" stroke-width="1" fill="none"/>
<text x="576.3" y="206.2" font-size="10.4" text-anchor="middle" transform="translate(576.3,0) scale(0.76,1) translate(-576.3,0)" fill="#222" stroke="#222" stroke-width="0.35">8</text>
<circle cx="577.3" cy="247.5" r="14.9" stroke="#666" stroke-width="1" fill="none"/>
<text x="574.6" y="251.6" font-size="10.4" text-anchor="middle" transform="translate(574.6,0) scale(0.76,1) translate(-574.6,0)" fill="#222" stroke="#222" stroke-width="0.35">2</text>
<line x1="580" y1="244" x2="580" y2="251.2" stroke="#222" stroke-width="1.35" />
<circle cx="582.3" cy="291.3" r="12.2" stroke="#666" stroke-width="1" fill="none"/>
<text x="582.3" y="295.4" font-size="10.4" text-anchor="middle" transform="translate(582.3,0) scale(0.76,1) translate(-582.3,0)" fill="#222" stroke="#222" stroke-width="0.35">6</text>
<circle cx="582.1" cy="357.5" r="14.8" stroke="#666" stroke-width="1" fill="none"/>
<line x1="579.4" y1="354" x2="579.4" y2="361.2" stroke="#222" stroke-width="1.35" />
<text x="584.8" y="361.6" font-size="10.4" text-anchor="middle" transform="translate(584.8,0) scale(0.76,1) translate(-584.8,0)" fill="#222" stroke="#222" stroke-width="0.35">9</text>
<circle cx="501.2" cy="468.9" r="14.8" stroke="#666" stroke-width="1" fill="none"/>
<line x1="498.5" y1="465.4" x2="498.5" y2="472.6" stroke="#222" stroke-width="1.35" />
<text x="503.9" y="473" font-size="10.4" text-anchor="middle" transform="translate(503.9,0) scale(0.76,1) translate(-503.9,0)" fill="#222" stroke="#222" stroke-width="0.35">6</text>
<circle cx="330.7" cy="465.2" r="12.2" stroke="#666" stroke-width="1" fill="none"/>
<text x="330.7" y="469.3" font-size="10.4" text-anchor="middle" transform="translate(330.7,0) scale(0.76,1) translate(-330.7,0)" fill="#222" stroke="#222" stroke-width="0.35">9</text>
<circle cx="285.2" cy="463.8" r="14.8" stroke="#666" stroke-width="1" fill="none"/>
<line x1="282.5" y1="460.3" x2="282.5" y2="467.5" stroke="#222" stroke-width="1.35" />
<text x="287.9" y="467.9" font-size="10.4" text-anchor="middle" transform="translate(287.9,0) scale(0.76,1) translate(-287.9,0)" fill="#222" stroke="#222" stroke-width="0.35">5</text>
<circle cx="247.2" cy="464.8" r="14.8" stroke="#666" stroke-width="1" fill="none"/>
<text x="244.5" y="468.9" font-size="10.4" text-anchor="middle" transform="translate(244.5,0) scale(0.76,1) translate(-244.5,0)" fill="#222" stroke="#222" stroke-width="0.35">2</text>
<text x="249.9" y="468.9" font-size="10.4" text-anchor="middle" transform="translate(249.9,0) scale(0.76,1) translate(-249.9,0)" fill="#222" stroke="#222" stroke-width="0.35">2</text>
<circle cx="149" cy="459.8" r="12.3" stroke="#666" stroke-width="1" fill="none"/>
<text x="149" y="463.9" font-size="10.4" text-anchor="middle" transform="translate(149,0) scale(0.76,1) translate(-149,0)" fill="#222" stroke="#222" stroke-width="0.35">7</text>
<circle cx="14.3" cy="398.4" r="12.2" stroke="#666" stroke-width="1" fill="none"/>
<text x="14.3" y="402.5" font-size="10.4" text-anchor="middle" transform="translate(14.3,0) scale(0.76,1) translate(-14.3,0)" fill="#222" stroke="#222" stroke-width="0.35">4</text>
<circle cx="14" cy="348.8" r="14.6" stroke="#666" stroke-width="1" fill="none"/>
<line x1="11.3" y1="345.3" x2="11.3" y2="352.5" stroke="#222" stroke-width="1.35" />
<text x="16.7" y="352.9" font-size="10.4" text-anchor="middle" transform="translate(16.7,0) scale(0.76,1) translate(-16.7,0)" fill="#222" stroke="#222" stroke-width="0.35">8</text>
<circle cx="10.3" cy="293.7" r="14.7" stroke="#666" stroke-width="1" fill="none"/>
<text x="7.6" y="297.8" font-size="10.4" text-anchor="middle" transform="translate(7.6,0) scale(0.76,1) translate(-7.6,0)" fill="#222" stroke="#222" stroke-width="0.35">2</text>
<text x="13" y="297.8" font-size="10.4" text-anchor="middle" transform="translate(13,0) scale(0.76,1) translate(-13,0)" fill="#222" stroke="#222" stroke-width="0.35">0</text>
<circle cx="14.6" cy="262.5" r="12.1" stroke="#666" stroke-width="1" fill="none"/>
<text x="14.6" y="266.6" font-size="10.4" text-anchor="middle" transform="translate(14.6,0) scale(0.76,1) translate(-14.6,0)" fill="#222" stroke="#222" stroke-width="0.35">3</text>
<circle cx="15" cy="226.8" r="14.7" stroke="#666" stroke-width="1" fill="none"/>
<line x1="12.3" y1="223.3" x2="12.3" y2="230.5" stroke="#222" stroke-width="1.35" />
<text x="17.7" y="230.9" font-size="10.4" text-anchor="middle" transform="translate(17.7,0) scale(0.76,1) translate(-17.7,0)" fill="#222" stroke="#222" stroke-width="0.35">3</text>
</svg></div></body></html>
